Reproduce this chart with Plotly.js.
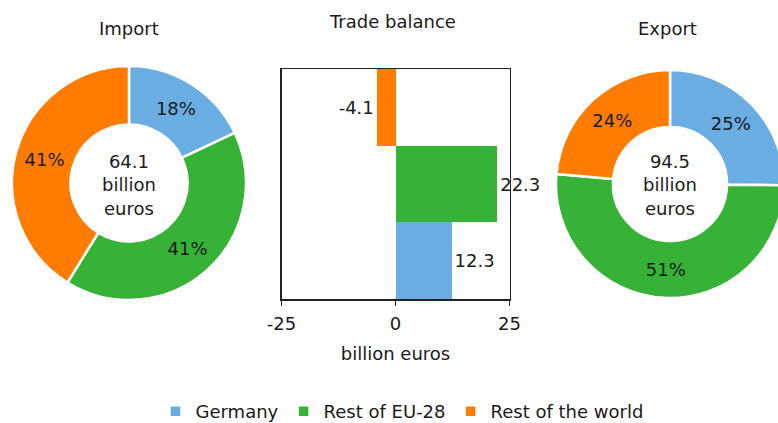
<!DOCTYPE html>
<html>
<head>
<meta charset="utf-8">
<script src="https://cdn.plot.ly/plotly-3.0.1.min.js"></script>
<style>
html,body{margin:0;padding:0;overflow:hidden;background:#fff;}
#chart{width:790px;height:423px;}
</style>
</head>
<body>
<div id="chart"></div>
<script>
// ---- data ----
const categories = ['Germany', 'Rest of EU-28', 'Rest of the world'];
const importValues = [11.5, 26.2, 26.4];   // billion euros
const exportValues = [23.8, 48.4, 22.3];   // billion euros
const balanceValues = [12.3, 22.3, -4.1];  // billion euros
const balanceTicks = [-25, 0, 25];
const balanceTickLabels = ['-25', '0', '25'];
const colors = ['#69ADE3', '#36B236', '#FF7C00'];

const W = 790, H = 423;
const px = v => v / W;
const py = v => 1 - v / H;
const FONT = 'DejaVu Sans, Verdana, sans-serif';
const TXT = '#1a1a1a';
const FS = 18;

const sum = a => a.reduce((s, v) => s + v, 0);
const centerText = a => sum(a).toFixed(1) + '<br>billion<br>euros';

const pieCommon = {
  type: 'pie',
  labels: categories,
  hole: 0.5,
  sort: false,
  direction: 'clockwise',
  rotation: 0,
  marker: {colors: colors, line: {color: '#ffffff', width: 2.5}},
  texttemplate: '%{percent:.0%}',
  textposition: 'inside',
  insidetextorientation: 'horizontal',
  textfont: {size: FS, color: TXT, family: FONT},
  hoverinfo: 'label+value+percent'
};

const importPie = Object.assign({}, pieCommon, {
  values: importValues,
  domain: {x: [px(12), px(246)], y: [py(300), py(66)]},
  showlegend: true
});
const exportPie = Object.assign({}, pieCommon, {
  values: exportValues,
  domain: {x: [px(556), px(784)], y: [py(298), py(70)]},
  showlegend: false
});

const balanceBar = {
  type: 'bar',
  orientation: 'h',
  x: balanceValues,
  y: categories,
  text: balanceValues.map(v => String(v)),
  marker: {color: colors},
  texttemplate: '%{text}',
  textposition: 'outside',
  constraintext: 'none',
  cliponaxis: false,
  textfont: {size: FS, color: TXT, family: FONT},
  showlegend: false,
  xaxis: 'x', yaxis: 'y'
};

const layout = {
  width: W, height: H,
  margin: {l: 0, r: 0, t: 0, b: 0, autoexpand: false},
  paper_bgcolor: '#ffffff',
  plot_bgcolor: '#ffffff',
  font: {family: FONT, size: FS, color: TXT},
  bargap: 0,
  xaxis: {
    domain: [px(281.5), px(509.5)],
    range: [-25, 25],
    tickmode: 'array',
    tickvals: balanceTicks,
    ticktext: balanceTickLabels,
    ticks: 'outside', ticklen: 5, tickwidth: 1.5, tickcolor: '#222',
    ticklabelstandoff: 3,
    showline: true, mirror: true, linecolor: '#222', linewidth: 1.5,
    showgrid: false, zeroline: false,
    tickfont: {size: FS, color: TXT},
    title: {text: 'billion euros', font: {size: FS, color: TXT}, standoff: 14},
    fixedrange: true
  },
  yaxis: {
    domain: [py(299), py(69)],
    type: 'category',
    showticklabels: false, ticks: '',
    showline: true, mirror: true, linecolor: '#222', linewidth: 1.5,
    showgrid: false, zeroline: false,
    fixedrange: true
  },
  legend: {
    orientation: 'h',
    x: px(402), xanchor: 'center',
    y: py(393), yanchor: 'top',
    font: {size: FS, color: TXT},
    itemwidth: 30
  },
  annotations: [
    {text: 'Import', x: px(129), y: py(29), xref: 'paper', yref: 'paper', showarrow: false, xanchor: 'center', yanchor: 'middle'},
    {text: 'Trade balance', x: px(392), y: py(22), xref: 'paper', yref: 'paper', showarrow: false, xanchor: 'center', yanchor: 'middle'},
    {text: 'Export', x: px(667), y: py(29), xref: 'paper', yref: 'paper', showarrow: false, xanchor: 'center', yanchor: 'middle'},
    {text: centerText(importValues), x: px(129), y: py(185), xref: 'paper', yref: 'paper', showarrow: false, xanchor: 'center', yanchor: 'middle'},
    {text: centerText(exportValues), x: px(670), y: py(185), xref: 'paper', yref: 'paper', showarrow: false, xanchor: 'center', yanchor: 'middle'}
  ]
};

Plotly.newPlot('chart', [importPie, exportPie, balanceBar], layout, {displayModeBar: false, staticPlot: true});
</script>
</body>
</html>
